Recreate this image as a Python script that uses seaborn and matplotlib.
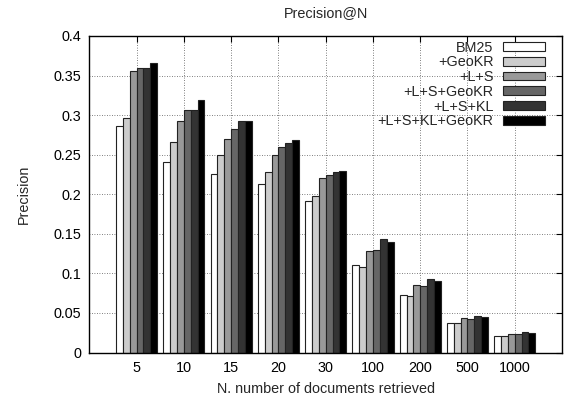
import matplotlib
matplotlib.use("Agg")
import matplotlib.pyplot as plt
import seaborn as sns
import pandas as pd
from matplotlib.ticker import FuncFormatter, MultipleLocator

categories = ["5", "10", "15", "20", "30", "100", "200", "500", "1000"]
methods = ["BM25", "+GeoKR", "+L+S", "+L+S+GeoKR", "+L+S+KL", "+L+S+KL+GeoKR"]
bm25 = [0.286, 0.241, 0.225, 0.213, 0.192, 0.110, 0.073, 0.037, 0.021]
geokr = [0.296, 0.266, 0.250, 0.228, 0.198, 0.108, 0.072, 0.037, 0.021]
ls = [0.356, 0.293, 0.270, 0.249, 0.220, 0.128, 0.085, 0.044, 0.024]
ls_geokr = [0.360, 0.306, 0.282, 0.260, 0.224, 0.129, 0.084, 0.042, 0.024]
ls_kl = [0.359, 0.307, 0.292, 0.265, 0.228, 0.143, 0.093, 0.046, 0.026]
ls_kl_geokr = [0.366, 0.319, 0.293, 0.268, 0.230, 0.140, 0.090, 0.045, 0.025]
series = [bm25, geokr, ls, ls_geokr, ls_kl, ls_kl_geokr]
colors = ["#ffffff", "#cccccc", "#999999", "#666666", "#333333", "#000000"]

rows = []
for m, vals in zip(methods, series):
    for c, v in zip(categories, vals):
        rows.append({"N": c, "method": m, "precision": v})
df = pd.DataFrame(rows)

sns.set_style("white")
plt.rcParams["font.family"] = ["Liberation Sans", "DejaVu Sans"]
fs = 10.4
plt.rcParams["font.size"] = fs

fig = plt.figure(figsize=(5.66, 3.99), dpi=100)
ax = fig.add_axes([0.1578, 0.1165, 0.993 - 0.1578, 0.9098 - 0.1165])

sns.barplot(data=df, x="N", y="precision", hue="method", order=categories,
            hue_order=methods, palette=colors, width=0.87, dodge=True,
            edgecolor="#222222", linewidth=0.8, ax=ax, errorbar=None, gap=0)

ax.set_xlim(-1, 9)
ax.set_ylim(0, 0.4)
ax.yaxis.set_major_locator(MultipleLocator(0.05))
ax.yaxis.set_major_formatter(FuncFormatter(lambda v, p: f"{v:g}"))
ax.set_axisbelow(True)
ax.grid(True, which="major", linestyle=(0, (1, 2)), color="#555555", linewidth=0.6)
ax.tick_params(direction="in", length=4, width=0.8, top=True, right=True,
               labelsize=fs, colors="black", pad=6)
for s in ax.spines.values():
    s.set_visible(True)
    s.set_color("black")
    s.set_linewidth(1.0)

ax.set_title("Precision@N", fontsize=fs, pad=14)
ax.set_xlabel("N. number of documents retrieved", fontsize=fs, labelpad=5)
ax.set_ylabel("Precision", fontsize=fs, labelpad=16)

handles, labels = ax.get_legend_handles_labels()
ax.legend(handles, labels, loc="upper right", markerfirst=False, frameon=False,
          fontsize=fs, handlelength=2.85, handleheight=0.55, labelspacing=0.05,
          handletextpad=0.7, borderaxespad=0.0, borderpad=0.0,
          bbox_to_anchor=(0.963, 0.985))

fig.savefig("out.png", dpi=100)
